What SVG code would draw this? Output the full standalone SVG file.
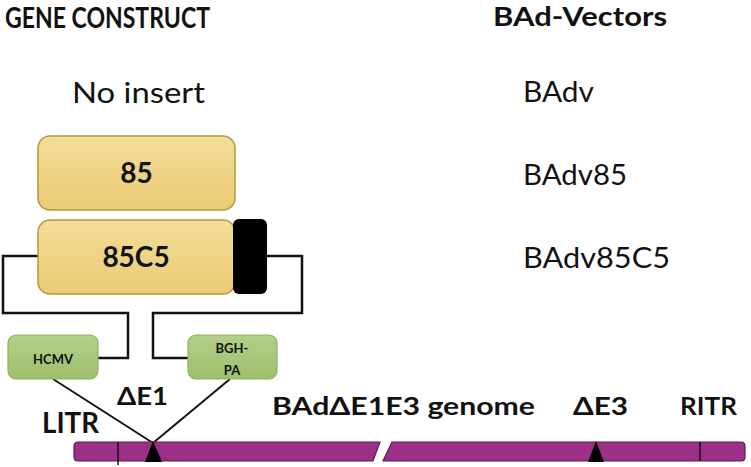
<svg xmlns="http://www.w3.org/2000/svg" width="751" height="467" viewBox="0 0 751 467">
<defs>
<linearGradient id="gy" x1="0" y1="0" x2="0" y2="1">
<stop offset="0" stop-color="#F3DD98"/>
<stop offset="1" stop-color="#EBCB74"/>
</linearGradient>
<linearGradient id="gg" x1="0" y1="0" x2="0" y2="1">
<stop offset="0" stop-color="#B2D08A"/>
<stop offset="1" stop-color="#9DC06C"/>
</linearGradient>
<style>
.t{font-family:Lato,"Liberation Sans",sans-serif;fill:#111}
.b{font-weight:bold}
.gene{fill:url(#gy);stroke:#B8963A;stroke-width:1.5}
.prom{fill:url(#gg);stroke:#8DB35E;stroke-width:1.2}
.wire{fill:none;stroke:#111;stroke-width:2.5}
.bar{fill:#9C2F88;stroke:#5A1A50;stroke-width:1.2}
</style>
</defs>
<rect width="751" height="467" fill="#fff"/>

<g id="titles">
<text class="t b" x="5" y="28" font-size="28" textLength="205" lengthAdjust="spacingAndGlyphs">GENE CONSTRUCT</text>
<text class="t b" x="493" y="26" font-size="26" textLength="174" lengthAdjust="spacingAndGlyphs">BAd-Vectors</text>
</g>

<g id="row-none">
<text class="t" x="72" y="103" font-size="29" textLength="133" lengthAdjust="spacingAndGlyphs">No insert</text>
<text class="t" x="523" y="102" font-size="28" textLength="71" lengthAdjust="spacingAndGlyphs">BAdv</text>
</g>

<g id="box-85">
<rect class="gene" x="38" y="136" width="197" height="74" rx="12"/>
<text class="t b" x="136.5" y="183" font-size="28" text-anchor="middle">85</text>
<text class="t" x="523" y="185" font-size="28" textLength="104" lengthAdjust="spacingAndGlyphs">BAdv85</text>
</g>

<g id="connectors">
<polyline class="wire" points="38,256 3,256 3,313 128,313 128,358 97,358"/>
<polyline class="wire" points="267,256 302,256 302,313 153,313 153,358 188,358"/>
<line x1="53" y1="379" x2="153" y2="443" stroke="#111" stroke-width="2"/>
<line x1="230" y1="379" x2="153" y2="443" stroke="#111" stroke-width="2"/>
</g>

<g id="box-85C5">
<rect class="gene" x="38" y="220" width="197" height="74" rx="12"/>
<rect x="233" y="219" width="34" height="75" rx="6" fill="#000"/>
<text class="t b" x="136" y="267" font-size="28" text-anchor="middle">85C5</text>
<text class="t" x="523" y="268" font-size="28" textLength="147" lengthAdjust="spacingAndGlyphs">BAdv85C5</text>
</g>

<g id="hcmv">
<rect class="prom" x="8" y="335" width="90" height="44" rx="8"/>
<text class="t b" x="53" y="364" font-size="13" text-anchor="middle">HCMV</text>
</g>

<g id="bgh">
<rect class="prom" x="188" y="335" width="89" height="44" rx="8"/>
<text class="t b" x="232" y="353" font-size="13" text-anchor="middle">BGH-</text>
<text class="t b" x="232" y="375" font-size="13" text-anchor="middle">PA</text>
</g>

<g id="genome">
<path class="bar" d="M78,442 L380,442 L373,461 L78,461 Q74,461 74,457 L74,446 Q74,442 78,442 Z"/>
<path class="bar" d="M392,442 L741,442 Q745,442 745,446 L745,457 Q745,461 741,461 L383,461 Z"/>
<line x1="118" y1="442" x2="118" y2="465" stroke="#111" stroke-width="1.5"/>
<line x1="700" y1="442" x2="700" y2="461" stroke="#111" stroke-width="1.5"/>
<polygon points="153,441 145,462 162,462" fill="#000"/>
<polygon points="596,441 588,462 604,462" fill="#000"/>
<text class="t b" x="117" y="405" font-size="24" textLength="51" lengthAdjust="spacingAndGlyphs">ΔE1</text>
<text class="t b" x="42" y="433" font-size="28" textLength="57" lengthAdjust="spacingAndGlyphs">LITR</text>
<text class="t b" x="272" y="415" font-size="25" textLength="263" lengthAdjust="spacingAndGlyphs">BAdΔE1E3 genome</text>
<text class="t b" x="573" y="415" font-size="25" textLength="55" lengthAdjust="spacingAndGlyphs">ΔE3</text>
<text class="t b" x="680" y="415" font-size="25" textLength="57" lengthAdjust="spacingAndGlyphs">RITR</text>
</g>
</svg>
